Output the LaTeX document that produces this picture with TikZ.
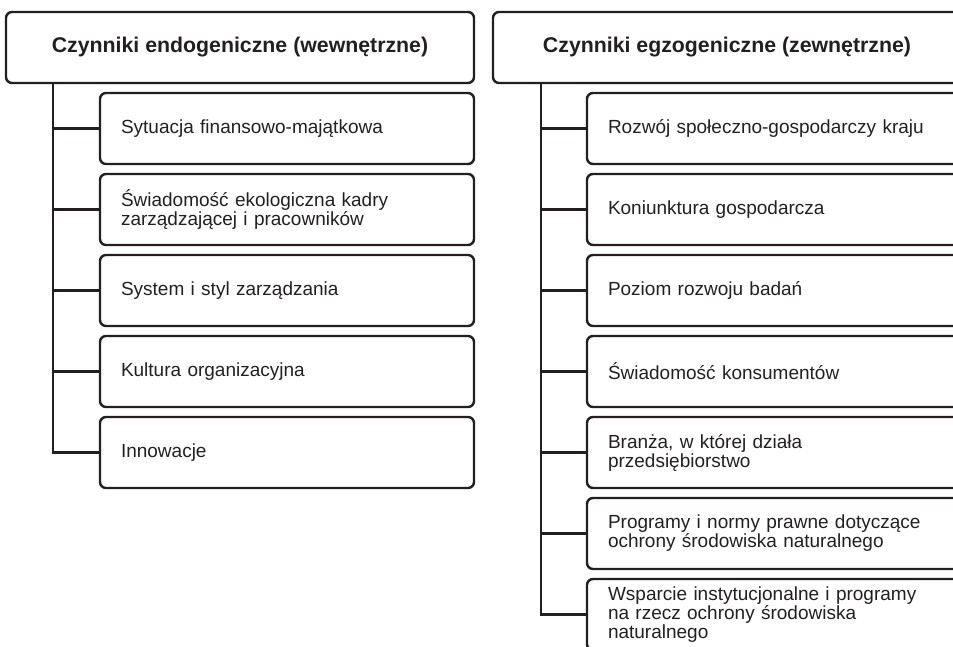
\documentclass[tikz,border=0pt]{standalone}
\usepackage{fontspec}
\setmainfont{Liberation Sans}
\usetikzlibrary{positioning}
\definecolor{ink}{RGB}{35,31,32}

\begin{document}
\begin{tikzpicture}[x=1pt, y=1pt, node distance=81pt, on grid,
        head/.style={draw=ink, line width=2.4pt, rounded corners=6pt,
            minimum width=468pt, minimum height=71pt, text=ink,
            font=\fontsize{21.3}{24}\selectfont\bfseries},
        item/.style={draw=ink, line width=2.4pt, rounded corners=6pt,
            minimum width=374pt, minimum height=71pt, inner xsep=21pt,
            text width=332pt, align=left, text=ink,
            font=\fontsize{19}{19}\selectfont},
        link/.style={draw=ink, line width=2.4pt}]
        \useasboundingbox (0,0) rectangle (953,-647);
        \clip (0,0) rectangle (953,-647);
        % headers
        \node[head](endo) at (240,-47.5){Czynniki endogeniczne (wewnętrzne)};
        \node[head](egzo) at (727,-47.5){Czynniki egzogeniczne (zewnętrzne)};
        % internal factors
        \node[item](en1) at (287,-128.5){Sytuacja finansowo-majątkowa};
        \node[item](en2)[below=of en1]{Świadomość ekologiczna kadry\\zarządzającej i pracowników};
        \node[item](en3)[below=of en2]{System i styl zarządzania};
        \node[item](en4)[below=of en3]{Kultura organizacyjna};
        \node[item](en5)[below=of en4]{Innowacje};
        % external factors
        \node[item](ex1) at (774,-128.5){Rozwój społeczno-gospodarczy kraju};
        \node[item](ex2)[below=of ex1]{Koniunktura gospodarcza};
        \node[item](ex3)[below=of ex2]{Poziom rozwoju badań};
        \node[item](ex4)[below=of ex3]{Świadomość konsumentów};
        \node[item](ex5)[below=of ex4]{Branża, w której działa\\przedsiębiorstwo};
        \node[item](ex6)[below=of ex5]{Programy i normy prawne dotyczące\\ochrony środowiska naturalnego};
        \node[item](ex7)[below=of ex6]{Wsparcie instytucjonalne i programy\\na rzecz ochrony środowiska\\naturalnego};
        % trunks
        \coordinate (entrunk) at (53,-83);
        \coordinate (extrunk) at (541,-83);
        \draw[link] (entrunk) |- (en5.west);
        \foreach \i in {1,...,4}
            \draw[link] (entrunk |- en\i.west) -- (en\i.west);
        \draw[link] (extrunk) |- (ex7.west);
        \foreach \i in {1,...,6}
            \draw[link] (extrunk |- ex\i.west) -- (ex\i.west);
    \end{tikzpicture}
\end{document}
